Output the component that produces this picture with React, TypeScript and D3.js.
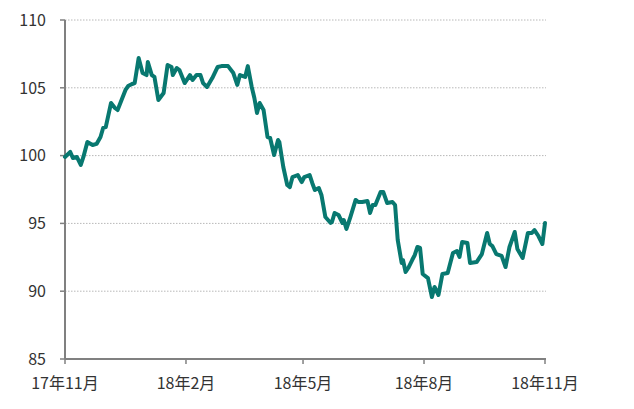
import React from "react";
import * as d3 from "d3";

const startDate = new Date(2017, 10, 1);
const dayOffsets = [
  0, 4, 6, 9, 12, 14, 17, 21, 24, 27, 29, 31, 35, 38, 40, 43, 46, 48, 51, 53,
  56, 59, 62, 63, 66, 68, 71, 75, 78, 81, 82, 85, 87, 91, 95, 97, 100, 103, 105, 108,
  112, 116, 119, 124, 128, 131, 133, 137, 139, 142, 144, 146, 148, 151, 154, 156, 159, 162, 163, 166,
  169, 171, 173, 177, 180, 182, 186, 188, 190, 193, 195, 198, 202, 203, 205, 208, 211, 212, 214, 217,
  221, 223, 226, 230, 232, 234, 236, 240, 242, 245, 249, 251, 253, 256, 257, 259, 261, 264, 266, 268,
  270, 272, 276, 279, 281, 284, 287, 291, 295, 298, 300, 302, 306, 308, 313, 317, 321, 323, 325, 328,
  332, 335, 338, 342, 344, 348, 352, 355, 357, 360, 363, 365,
];
const values = [
  99.9, 100.27, 99.82, 99.9, 99.31, 99.9, 101.0, 100.78, 100.86, 101.37, 102.04, 102.1, 103.88, 103.51, 103.36, 104.1, 104.84, 105.13, 105.28, 105.35,
  107.2, 106.09, 105.94, 106.9, 105.94, 105.8, 104.1, 104.62, 106.68, 106.53, 105.94, 106.46, 106.31, 105.35, 105.94, 105.58, 105.94, 105.94, 105.35, 105.06,
  105.72, 106.53, 106.6, 106.6, 106.09, 105.21, 105.94, 105.8, 106.6, 105.06, 104.25, 103.14, 103.88, 103.36, 101.37, 101.3, 100.04, 101.15, 101.0, 99.16,
  97.83, 97.68, 98.42, 98.57, 98.05, 98.42, 98.57, 97.98, 97.46, 97.61, 97.1, 95.47, 95.03, 95.1, 95.77, 95.62, 95.03, 95.25, 94.59, 95.47,
  96.73, 96.58, 96.58, 96.65, 95.77, 96.36, 96.36, 97.32, 97.32, 96.5, 96.58, 96.36, 93.78, 92.08, 92.3, 91.42, 91.71, 92.3, 92.67, 93.26,
  93.19, 91.27, 90.97, 89.57, 90.31, 89.72, 91.27, 91.34, 92.82, 92.96, 92.52, 93.63, 93.55, 92.08, 92.15, 92.74, 94.29, 93.48, 93.33, 92.74,
  92.6, 91.78, 93.26, 94.37, 93.11, 92.45, 94.29, 94.29, 94.51, 94.07, 93.48, 95.03,
];
const yTicks = [85, 90, 95, 100, 105, 110];
const xTickDates = [
  new Date(2017, 10, 1),
  new Date(2018, 1, 1),
  new Date(2018, 4, 1),
  new Date(2018, 7, 1),
  new Date(2018, 10, 1),
];
const xTickLabels = ["17年11月", "18年2月", "18年5月", "18年8月", "18年11月"];

const W = 634;
const H = 409;
const left = 65;
const right = 545;
const top = 20;
const bottom = 359;

export default function App() {
  const x = d3.scaleTime().domain([startDate, new Date(2018, 10, 1)]).range([left, right]);
  const y = d3.scaleLinear().domain([85, 110]).range([bottom, top]);
  const data = dayOffsets.map((d, i) => ({ date: d3.timeDay.offset(startDate, d), v: values[i] }));
  const line = d3
    .line<{ date: Date; v: number }>()
    .x((d) => x(d.date))
    .y((d) => y(d.v));
  const font = "'Noto Sans CJK JP', 'Noto Sans', sans-serif";
  return (
    <svg
      width={W}
      height={H}
      style={{ position: "absolute", left: 0, top: 0, background: "#fff" }}
    >
      {yTicks
        .filter((t) => t !== 85)
        .map((t) => (
          <line
            key={"g" + t}
            x1={left}
            x2={right + 1}
            y1={y(t)}
            y2={y(t)}
            stroke="#b8b8b8"
            strokeWidth={1}
            strokeDasharray="1.5,1.5"
          />
        ))}
      {yTicks.map((t) => (
        <g key={"yt" + t}>
          <line x1={left - 5} x2={left} y1={y(t)} y2={y(t)} stroke="#808080" strokeWidth={1.5} />
          <text
            x={46}
            y={y(t)}
            dy="0.36em"
            textAnchor="end"
            fontFamily={font}
            fontSize={16}
            fill="#333"
          >
            {t}
          </text>
        </g>
      ))}
      {xTickDates.map((d, i) => (
        <g key={"xt" + i}>
          <line x1={x(d)} x2={x(d)} y1={bottom} y2={bottom + 5} stroke="#808080" strokeWidth={1.5} />
          <text
            x={x(d)}
            y={389}
            textAnchor="middle"
            fontFamily={font}
            fontSize={16}
            fill="#333"
          >
            {xTickLabels[i]}
          </text>
        </g>
      ))}
      <line x1={left} x2={left} y1={top} y2={bottom} stroke="#808080" strokeWidth={2} />
      <line x1={left} x2={right + 1} y1={bottom} y2={bottom} stroke="#808080" strokeWidth={2} />
      <path
        d={line(data) || ""}
        fill="none"
        stroke="#087870"
        strokeWidth={4}
        strokeLinejoin="round"
        strokeLinecap="round"
      />
    </svg>
  );
}
